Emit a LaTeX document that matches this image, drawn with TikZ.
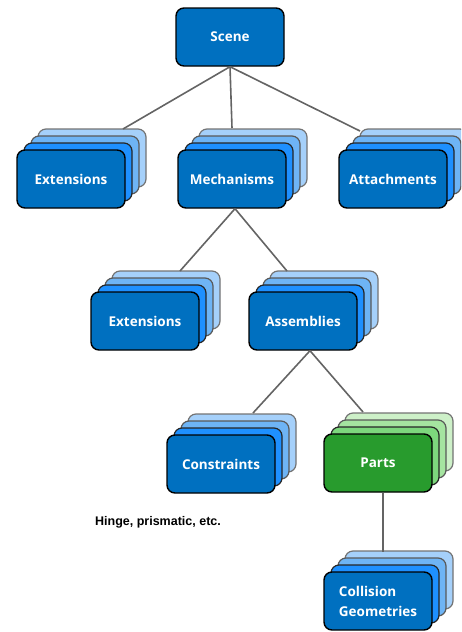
\documentclass[tikz,border=0pt]{standalone}
\usepackage{xcolor}
\usepackage{fontspec}
\usetikzlibrary{calc}

\newfontfamily\boxfont{Open Sans}
\newfontfamily\notefont{Liberation Sans}

\definecolor{blue0}{RGB}{0,112,192}
\definecolor{blue1}{RGB}{30,144,255}
\definecolor{blue2}{RGB}{110,180,245}
\definecolor{blue3}{RGB}{165,208,250}
\definecolor{green0}{RGB}{40,155,45}
\definecolor{green1}{RGB}{125,215,125}
\definecolor{green2}{RGB}{165,228,160}
\definecolor{green3}{RGB}{205,240,200}
\definecolor{linkgray}{RGB}{100,100,100}

\tikzset{
  card/.style={rectangle, rounded corners=8pt, minimum width=108pt, minimum height=58pt, inner sep=0pt},
  front/.style={card, draw=black, line width=1.4pt, text=white, align=left,
    font=\boxfont\bfseries\fontsize{13.5}{20}\selectfont},
  layer1/.style={card, draw=black!85, line width=1.2pt},
  layer2/.style={card, draw=black!65, line width=1.2pt},
  layer3/.style={card, draw=black!55, line width=1.2pt},
  link/.style={draw=linkgray, line width=1.6pt}
}

\begin{document}
\begin{tikzpicture}[x=1pt, y=-1pt]

  \useasboundingbox (0,0) rectangle (461,632);
  \clip (0,0) rectangle (461,632);

  % Top of the tree
  \node[front, fill=blue0] (scene) at (230,37) {Scene};

  % Draw the stacked cards
  \foreach \nm/\x/\y/\txt/\fam in {
      ext/71/179/Extensions/blue,
      mech/232/179/Mechanisms/blue,
      att/393/179/Attachments/blue,
      extb/145/321/Extensions/blue,
      asm/303/321/Assemblies/blue,
      con/221/464/Constraints/blue,
      parts/378/463/Parts/green,
      col/378/601/{Collision\\Geometries}/blue}{
    \foreach \k in {3,2,1}
      \node[layer\k, fill=\fam\k] (\nm\k) at (\x+7*\k,\y-7*\k) {};
    \node[front, fill=\fam0] (\nm) at (\x,\y) {\txt};
  }

  % Where the links meet the back cards
  \coordinate (extTop) at (123,129);
  \coordinate (mechTop) at (232,128);
  \coordinate (attTop) at (360,131);
  \coordinate (extbTop) at (180,271);
  \coordinate (asmTop) at (287,271);
  \coordinate (conTop) at (253,413);
  \coordinate (partsTop) at (363,412);
  \coordinate (colTop) at (383,552);

  % Draw the links
  \draw[link] (scene.south) -- (extTop);
  \draw[link] (scene.south) -- (mechTop);
  \draw[link] (scene.south) -- (attTop);
  \draw[link] ([xshift=3pt]mech.south) -- (extbTop);
  \draw[link] ([xshift=3pt]mech.south) -- (asmTop);
  \draw[link] ([xshift=7pt]asm.south) -- (conTop);
  \draw[link] ([xshift=7pt]asm.south) -- (partsTop);
  \draw[link] ([xshift=5pt]parts.south) -- (colTop);

  % Note under the constraints
  \node[font=\notefont\bfseries\fontsize{12.5}{14}\selectfont] (note) at (158,522) {Hinge, prismatic, etc.};

\end{tikzpicture}
\end{document}
